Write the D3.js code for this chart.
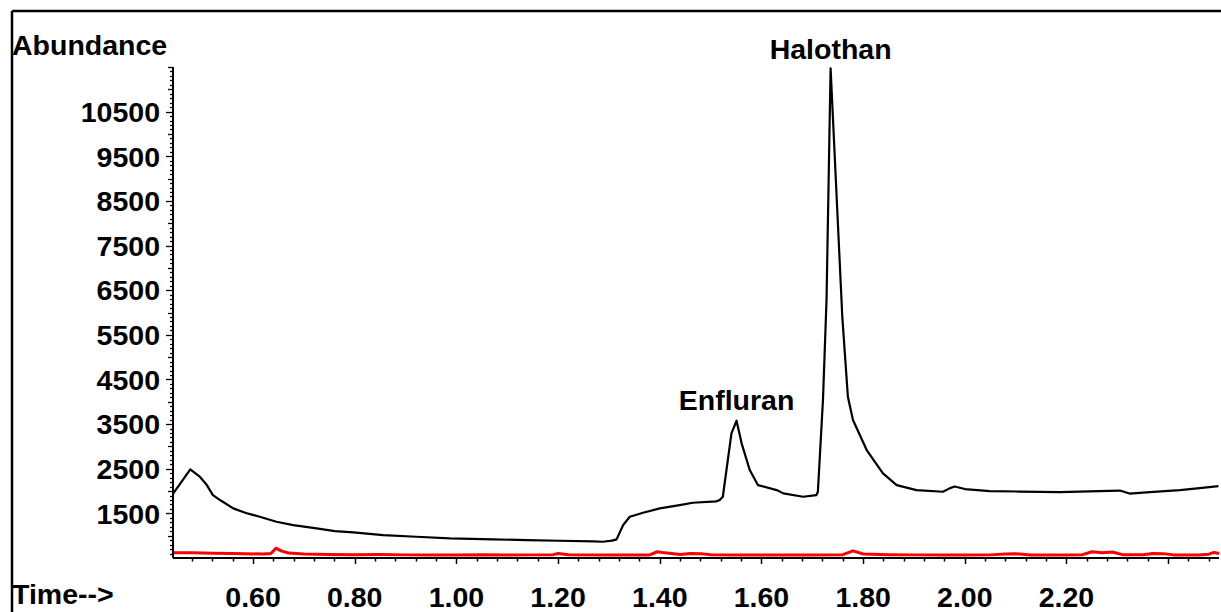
<!DOCTYPE html>
<html>
<head>
<meta charset="utf-8">
<script src="https://cdn.jsdelivr.net/npm/d3@7"></script>
<style>
  html, body { margin: 0; padding: 0; background: #fff; }
  svg { display: block; }
  text { font-family: "Liberation Sans", Arial, sans-serif; font-weight: bold; fill: #000; }
</style>
</head>
<body>
<svg id="chart" width="1221" height="612"></svg>
<script>
// ---- data ----
const blackTime = [0.442,0.456,0.4765,0.495,0.509,0.521,0.538,0.561,0.586,0.613,0.646,0.679,0.725,0.761,0.797,0.856,0.921,0.987,1.072,1.138,1.203,1.269,1.288,1.306,1.315,1.328,1.341,1.367,1.400,1.439,1.465,1.511,1.518,1.524,1.541,1.551,1.561,1.577,1.593,1.630,1.643,1.682,1.708,1.711,1.721,1.728,1.736,1.759,1.770,1.780,1.807,1.839,1.866,1.905,1.957,1.970,1.980,2.000,2.049,2.108,2.187,2.265,2.305,2.324,2.364,2.423,2.462,2.499];
const blackAbund = [1933,2157,2486,2325,2134,1910,1776,1612,1507,1424,1312,1238,1164,1103,1074,1014,976,940,917,902,886,873,864,890,917,1238,1424,1513,1612,1686,1738,1769,1798,1872,3293,3575,3069,2470,2134,2022,1948,1872,1910,1984,4039,6280,11472,5906,4113,3591,2919,2396,2134,2022,1984,2060,2101,2045,2000,1989,1977,2000,2011,1944,1977,2022,2067,2112];

const redTime = [0.442,0.48,0.52,0.56,0.62,0.635,0.645,0.655,0.67,0.70,0.75,0.80,0.85,0.90,0.95,1.00,1.05,1.10,1.15,1.19,1.20,1.22,1.30,1.38,1.395,1.41,1.44,1.46,1.48,1.50,1.55,1.60,1.65,1.70,1.76,1.78,1.80,1.85,1.90,1.95,2.00,2.05,2.08,2.10,2.13,2.20,2.23,2.25,2.27,2.29,2.31,2.35,2.37,2.39,2.41,2.46,2.48,2.49,2.50];
const redAbund = [620,615,605,600,590,600,720,660,610,590,580,575,578,570,568,570,575,565,570,575,600,572,565,568,640,615,580,600,598,575,568,570,566,568,575,660,590,575,570,568,565,570,590,595,568,565,570,640,620,635,575,575,600,598,570,568,585,625,600];

const xTickLabels = ["0.60","0.80","1.00","1.20","1.40","1.60","1.80","2.00","2.20"];
const yTickLabels = ["1500","2500","3500","4500","5500","6500","7500","8500","9500","10500"];

const peakNames = ["Enfluran","Halothan"];
const peakTimes = [1.551, 1.736];
const peakAbund = [3575, 11472];

// ---- layout ----
const FS = 28.5;
const svg = d3.select("#chart");
const x = d3.scaleLinear().domain([0.4425, 2.50]).range([173, 1219]);
const y = d3.scaleLinear().domain([500, 11500]).range([558, 67]);

// frame (top & left)
svg.append("line").attr("x1", 12).attr("x2", 1221).attr("y1", 11).attr("y2", 11)
  .attr("stroke", "#000").attr("stroke-width", 2.5);
svg.append("line").attr("x1", 12).attr("x2", 12).attr("y1", 11).attr("y2", 612)
  .attr("stroke", "#000").attr("stroke-width", 2.5);

// traces
const line = d3.line().x(d => x(d[0])).y(d => y(d[1]));
svg.append("path").datum(redTime.map((t, i) => [t, redAbund[i]]))
  .attr("d", line).attr("fill", "none").attr("stroke", "#ff0000")
  .attr("stroke-width", 3).attr("stroke-linejoin", "round");
svg.append("path").datum(blackTime.map((t, i) => [t, blackAbund[i]]))
  .attr("d", line).attr("fill", "none").attr("stroke", "#000")
  .attr("stroke-width", 2.2).attr("stroke-linejoin", "round");

// y axis
const yMinor = d3.range(600, 11501, 100);
const yAxisG = svg.append("g").attr("transform", "translate(173,0)");
yAxisG.append("line").attr("x1", 0).attr("x2", 0).attr("y1", y(11500)).attr("y2", y(500))
  .attr("stroke", "#000").attr("stroke-width", 2);
yAxisG.selectAll("line.tick").data(yMinor).join("line").attr("class", "tick")
  .attr("x1", 0)
  .attr("x2", d => (d % 1000 === 500 && d >= 1500 && d <= 10500) ? -7 : (d % 500 === 0 ? -5 : -3))
  .attr("y1", d => Math.round(y(d)) + 0.5).attr("y2", d => Math.round(y(d)) + 0.5)
  .attr("stroke", "#000").attr("stroke-width", 1.3);
yAxisG.selectAll("text").data(yTickLabels).join("text")
  .attr("x", -13).attr("y", d => y(+d)).attr("dy", "0.36em")
  .attr("text-anchor", "end").attr("font-size", FS).text(d => d);

// x axis
const xTicks = d3.range(0, 52).map(i => +(0.48 + i * 0.04).toFixed(2)).filter(t => t <= 2.5);
const xAxisG = svg.append("g").attr("transform", "translate(0,558)");
xAxisG.append("line").attr("x1", 173).attr("x2", 1219).attr("y1", 0).attr("y2", 0)
  .attr("stroke", "#000").attr("stroke-width", 2);
xAxisG.selectAll("line.tick").data(xTicks).join("line").attr("class", "tick")
  .attr("x1", d => Math.round(x(d)) + 0.5).attr("x2", d => Math.round(x(d)) + 0.5)
  .attr("y1", 0)
  .attr("y2", d => (Math.round(d * 100) % 20 === 0) ? 6 : 3.5)
  .attr("stroke", "#000").attr("stroke-width", 1.5);
xAxisG.selectAll("text").data(xTickLabels).join("text")
  .attr("x", d => x(+d)).attr("y", 49)
  .attr("text-anchor", "middle").attr("font-size", FS).text(d => d);

// axis titles
svg.append("text").attr("x", 12).attr("y", 55).attr("font-size", FS).text("Abundance");
svg.append("text").attr("x", 12).attr("y", 604).attr("font-size", FS).text("Time-->");

// peak labels
svg.selectAll("text.peak").data(peakNames).join("text").attr("class", "peak")
  .attr("x", (d, i) => x(peakTimes[i]))
  .attr("y", (d, i) => y(peakAbund[i]) - (i === 0 ? 11 : 9))
  .attr("text-anchor", "middle").attr("font-size", FS).text(d => d);
</script>
</body>
</html>
